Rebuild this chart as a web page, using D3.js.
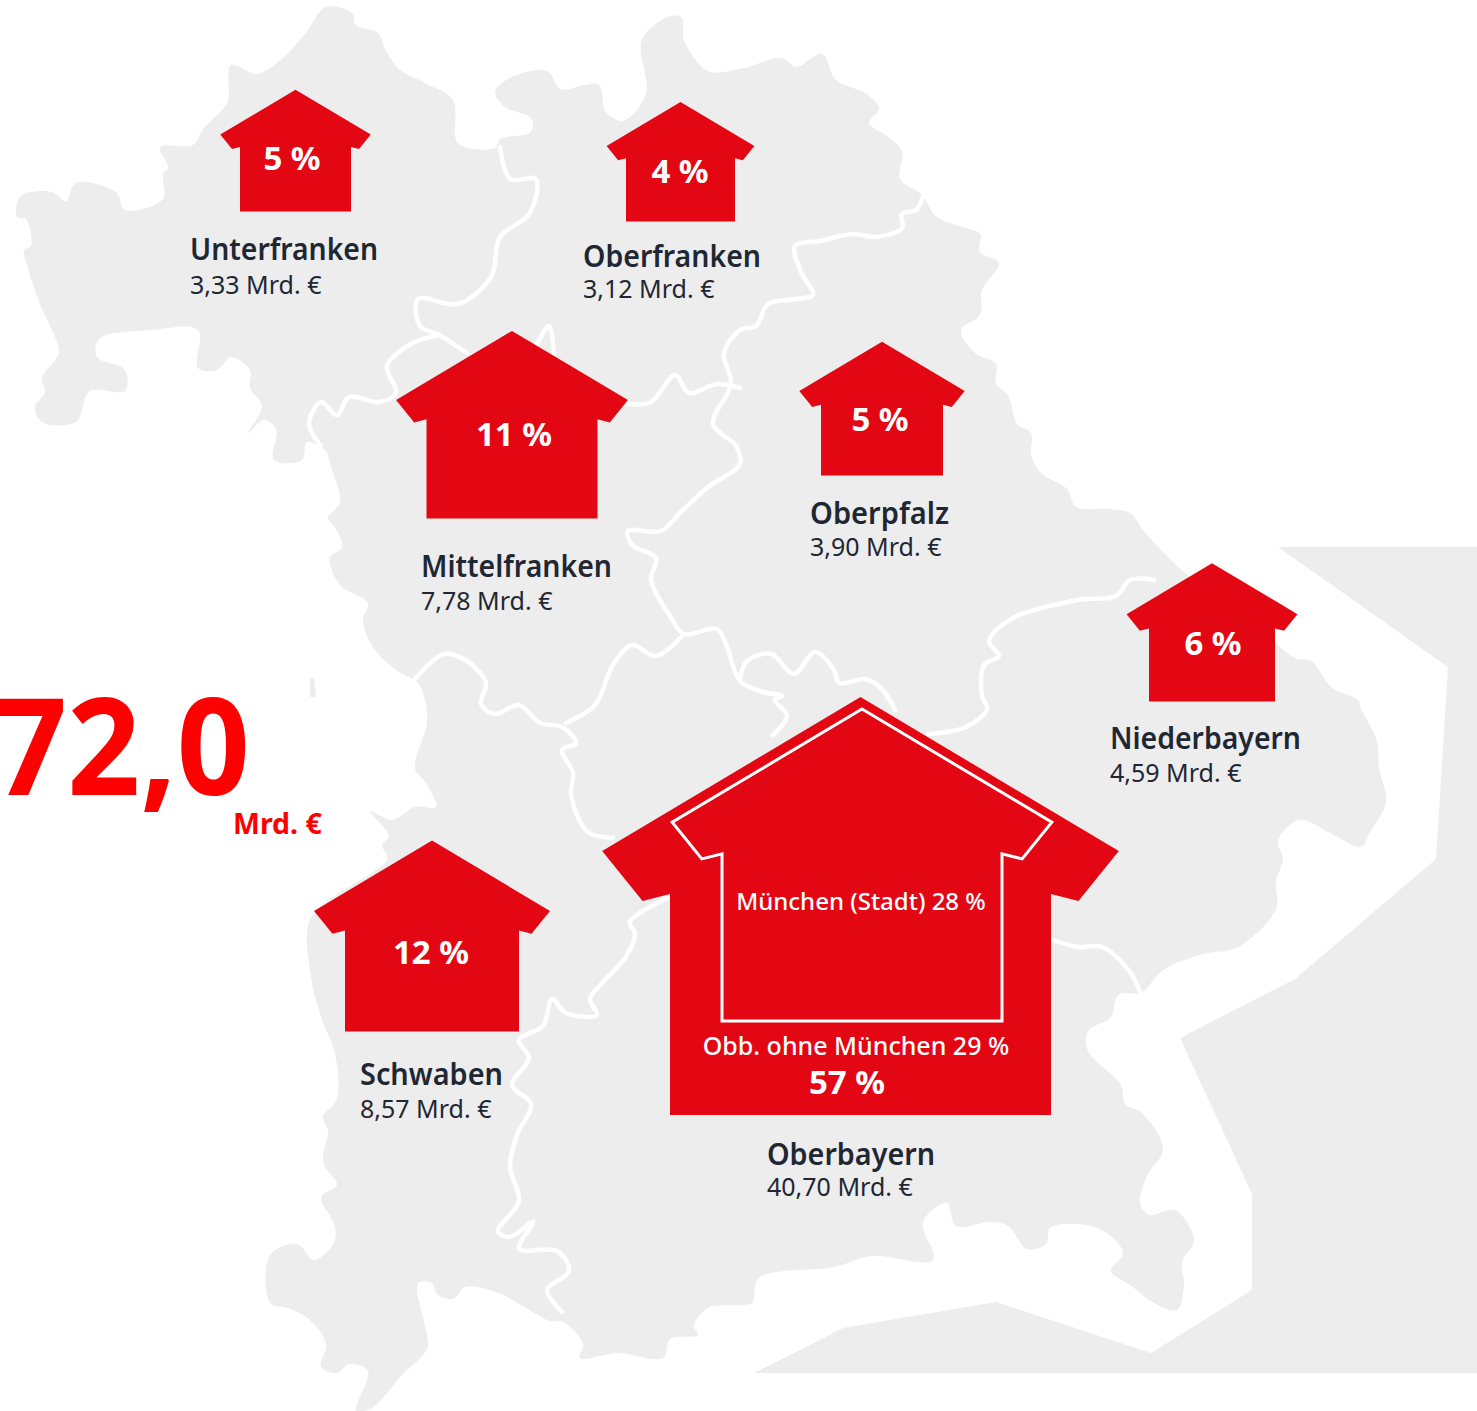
<!DOCTYPE html>
<html lang="de"><head><meta charset="utf-8">
<script src="https://cdn.jsdelivr.net/npm/d3@7/dist/d3.min.js"></script>
<style>html,body{margin:0;padding:0;background:#fff;overflow:hidden}svg{display:block}text{font-family:"Noto Sans",sans-serif}</style>
</head><body><svg id="c" width="1477" height="1411"></svg>
<script>
// ---- data ----
const regions   = ["Unterfranken","Oberfranken","Mittelfranken","Oberpfalz","Niederbayern","Schwaben","Oberbayern"];
const amounts   = [3.33,3.12,7.78,3.90,4.59,8.57,40.70];
const shares    = [5,4,11,5,6,12,57];
const muenchen  = {stadt:28, umland:29};
const totalText = "72,0";
const unitText  = "Mrd. €";

// ---- layout (map anchors) ----
const anchors = [
 {cx:295.5,base:211.5,px:292,py:170,lx:190,ny:260,ay:293.5,nw:188},
 {cx:680.5,base:221.5,px:680,py:183,lx:583,ny:267,ay:297.5,nw:178},
 {cx:512,  base:518.5,px:514,py:446,lx:421,ny:577,ay:609.5,nw:191},
 {cx:882,  base:475.5,px:880,py:431,lx:810,ny:524,ay:555.5,nw:139},
 {cx:1212, base:701.5,px:1213,py:655,lx:1110,ny:749,ay:781.5,nw:191},
 {cx:432,  base:1031.5,px:431,py:964,lx:360,ny:1085,ay:1117.5,nw:143},
 {cx:860.5,base:1115,px:847,py:1094,lx:767,ny:1165,ay:1195.5,nw:168}
];
const widthScale = d3.scaleLinear()
  .domain([3.12,3.33,3.90,4.59,7.78,8.57,40.70])
  .range([109,111,122,126,171,174,381]);

const bavaria = [[326,7],[352,13],[356,25],[378,33],[385,49],[399,69],[425,83],[453,100],[458,143],[495,148],[500,139],[531,132],[531,118],[505,107],[495,92],[510,78],[547,71],[561,89],[585,85],[599,85],[606,112],[623,121],[646,94],[642,40],[670,16],[682,18],[684,40],[708,71],[740,69],[782,58],[796,67],[822,54],[836,80],[867,94],[879,109],[869,123],[890,138],[902,152],[900,179],[921,194],[937,217],[966,228],[980,234],[980,252],[999,263],[982,290],[980,315],[961,330],[975,353],[996,364],[996,384],[1008,395],[1017,424],[1031,433],[1031,455],[1041,473],[1067,489],[1076,507],[1109,509],[1130,513],[1144,531],[1165,554],[1191,578],[1250,620],[1295,658],[1311,661],[1332,688],[1358,700],[1361,709],[1377,741],[1379,768],[1386,802],[1370,832],[1361,847],[1332,834],[1299,820],[1278,841],[1283,859],[1276,881],[1276,909],[1238,947],[1203,954],[1163,970],[1142,992],[1118,995],[1111,1017],[1088,1031],[1088,1051],[1121,1085],[1125,1104],[1142,1113],[1163,1149],[1147,1176],[1140,1203],[1149,1215],[1175,1210],[1194,1240],[1182,1262],[1184,1285],[1177,1310],[1154,1303],[1130,1285],[1111,1271],[1123,1253],[1107,1233],[1078,1224],[1050,1228],[1046,1244],[1027,1249],[1008,1226],[990,1222],[956,1226],[947,1203],[923,1222],[933,1260],[872,1256],[834,1267],[759,1278],[752,1303],[740,1305],[708,1308],[694,1326],[698,1335],[670,1339],[663,1358],[618,1353],[580,1358],[583,1344],[562,1321],[550,1321],[521,1305],[496,1292],[465,1287],[453,1299],[437,1294],[432,1283],[418,1283],[427,1335],[427,1349],[401,1376],[373,1407],[356,1411],[368,1371],[349,1364],[337,1373],[321,1367],[326,1344],[311,1321],[288,1308],[270,1303],[270,1255],[297,1244],[314,1260],[333,1244],[335,1226],[321,1197],[337,1185],[323,1162],[328,1131],[323,1117],[337,1099],[335,1054],[321,1017],[311,977],[311,918],[387,859],[382,845],[389,836],[370,811],[392,820],[415,807],[436,807],[425,782],[415,768],[427,723],[425,700],[418,683],[396,670],[373,647],[363,620],[368,603],[340,585],[330,558],[342,547],[335,527],[328,518],[340,502],[330,464],[326,451],[307,442],[302,460],[274,460],[276,429],[264,420],[248,433],[262,406],[250,388],[250,370],[231,357],[217,370],[198,368],[198,330],[151,330],[99,339],[97,357],[125,370],[125,391],[90,391],[76,422],[42,422],[35,406],[45,393],[42,377],[59,353],[50,326],[40,304],[28,268],[24,250],[31,246],[26,219],[17,217],[21,196],[52,192],[66,201],[76,183],[116,192],[125,210],[163,199],[163,174],[168,167],[160,147],[193,145],[203,129],[227,103],[231,65],[257,74],[283,58],[307,31]];
const sliver = [[310,677],[314,679],[316,697],[310,697]];
const neighbour = [[1278,547],[1477,547],[1477,1373],[754,1373],[843,1328],[996,1302],[1151,1353],[1252,1290],[1252,1194],[1180,1038],[1295,979],[1436,859],[1448,667]];
const borders = [
 [[500,147],[510,179],[536,179],[529,214],[500,237],[491,277],[458,304],[418,299],[420,326],[439,335],[467,353]],
 [[439,335],[411,344],[387,366],[396,393],[378,402],[349,397],[337,415],[321,402],[309,424],[321,446]],
 [[536,346],[549,326],[554,354]],
 [[628,404],[651,402],[675,375],[689,393],[717,384],[740,388]],
 [[923,196],[916,210],[902,214],[902,228],[876,237],[853,234],[820,241],[795,246],[801,272],[813,295],[796,299],[768,304],[756,326],[740,330],[724,353],[731,384],[713,424],[736,446],[740,464],[708,487],[680,513],[661,531],[628,531],[632,545],[656,558],[651,580],[670,616],[684,634],[717,629],[727,647],[740,681],[763,692],[782,696],[775,700],[787,716],[773,735]],
 [[684,634],[656,656],[632,645],[613,665],[595,705],[566,723]],
 [[415,679],[444,654],[467,661],[486,683],[481,704],[495,714],[519,705],[540,723],[562,727],[576,743],[562,750],[573,773],[571,795],[588,832],[613,838]],
 [[740,679],[747,661],[771,654],[794,674],[815,652],[834,670],[839,683],[865,679],[881,688],[895,710]],
 [[1154,580],[1130,580],[1116,596],[1078,600],[1013,618],[989,641],[999,656],[984,665],[982,696],[987,709],[966,727],[928,734]],
 [[1053,940],[1078,947],[1102,947],[1130,972],[1140,992]],
 [[670,897],[630,922],[635,934],[625,958],[604,981],[590,999],[597,1015],[566,1013],[552,999],[543,1026],[519,1040],[529,1058],[512,1085],[531,1104],[517,1135],[510,1167],[519,1201],[498,1231],[510,1237],[533,1222],[519,1249],[557,1251],[569,1271],[547,1290],[562,1312]]
];

// ---- drawing ----
const RED="#e30613", GREY="#ededed", INK="#1f2733";
const svg=d3.select("#c");
const line=d3.line().curve(d3.curveLinear);
const wiggle=d3.line().curve(d3.curveCatmullRom.alpha(0.5));
const wiggleClosed=d3.line().curve(d3.curveCatmullRomClosed.alpha(0.5));

svg.append("path").attr("d",line(neighbour)+"Z").attr("fill",GREY);
svg.append("path").attr("d",line(sliver)+"Z").attr("fill",GREY);
svg.append("path").attr("d",wiggleClosed(bavaria)).attr("fill",GREY);
svg.selectAll("path.b").data(borders).join("path").attr("class","b")
  .attr("d",d=>wiggle(d)).attr("fill","none").attr("stroke","#fff")
  .attr("stroke-width",4.5).attr("stroke-linejoin","round").attr("stroke-linecap","round");

// house silhouette from centre, base and body width
function house(cx,base,w,hf=1.097){
  const H=w*hf, top=base-H;
  const pts=[[0,0],[.678,.404],[.572,.535],[.5,.517]];
  const r=pts.map(([a,b])=>[cx+a*w,top+b*w]);
  const l=pts.slice(1).reverse().map(([a,b])=>[cx-a*w,top+b*w]);
  return [...r,[cx+w/2,base],[cx-w/2,base],...l];
}
const rows=regions.map((name,i)=>({name,amount:amounts[i],share:shares[i],...anchors[i]}));

svg.selectAll("path.h").data(rows).join("path").attr("class","h")
  .attr("d",d=>line(house(d.cx,d.base,widthScale(d.amount)))+"Z").attr("fill",RED);

// inner house: München (Stadt)
svg.append("path").attr("d",line(house(862,1021,280,1.114))+"Z")
  .attr("fill","none").attr("stroke","#fff").attr("stroke-width",3);

const fmt=v=>v.toFixed(2).replace(".",",")+" "+unitText;
svg.selectAll("text.p").data(rows).join("text").attr("class","p")
  .attr("x",d=>d.px).attr("y",d=>d.py).attr("text-anchor","middle")
  .attr("fill","#fff").attr("font-weight",700).attr("font-size",33).text(d=>d.share+" %");
svg.selectAll("text.n").data(rows).join("text").attr("class","n")
  .attr("x",d=>d.lx).attr("y",d=>d.ny).attr("fill",INK)
  .attr("font-weight",600).attr("font-size",30)
  .attr("textLength",d=>d.nw).attr("lengthAdjust","spacingAndGlyphs").text(d=>d.name);
svg.selectAll("text.a").data(rows).join("text").attr("class","a")
  .attr("x",d=>d.lx).attr("y",d=>d.ay).attr("fill",INK)
  .attr("font-weight",400).attr("font-size",25).text(d=>fmt(d.amount));

svg.append("text").attr("x",861).attr("y",910).attr("text-anchor","middle").attr("fill","#fff")
  .attr("font-weight",500).attr("font-size",24).text(`München (Stadt) ${muenchen.stadt} %`);
svg.append("text").attr("x",856).attr("y",1055).attr("text-anchor","middle").attr("fill","#fff")
  .attr("font-weight",500).attr("font-size",25).text(`Obb. ohne München ${muenchen.umland} %`);

svg.append("text").attr("x",-6).attr("y",795).attr("fill","#ff0000")
  .attr("font-weight",700).attr("font-size",135)
  .attr("textLength",256).attr("lengthAdjust","spacingAndGlyphs").text(totalText);
svg.append("text").attr("x",233).attr("y",834).attr("fill","#ff0000")
  .attr("font-weight",700).attr("font-size",28.5).text(unitText);
</script></body></html>
